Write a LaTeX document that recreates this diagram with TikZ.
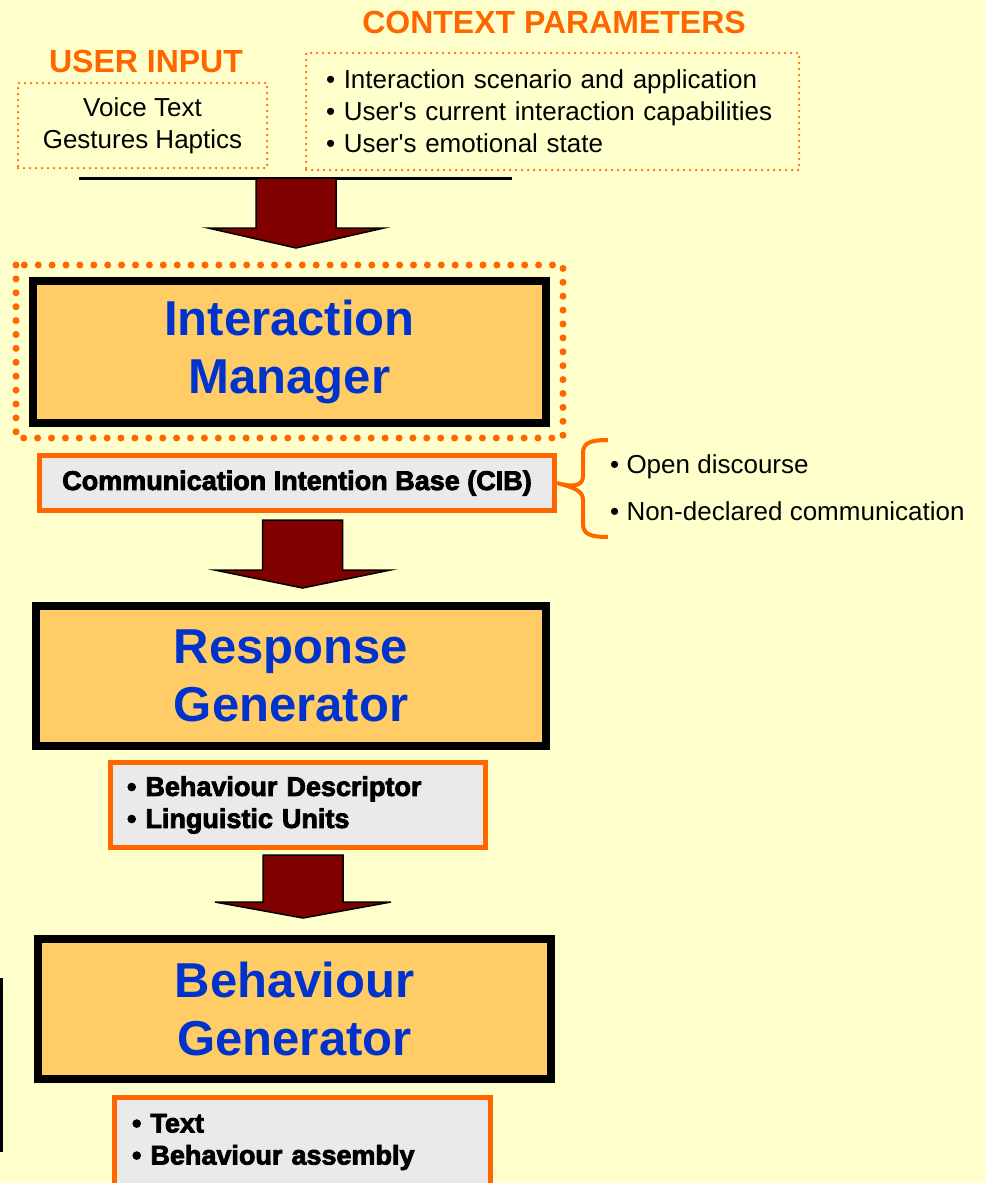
\documentclass[tikz,border=0pt]{standalone}
\usepackage{fontspec}
\setmainfont{Liberation Sans}
\newfontfamily\heavyfont{Liberation Sans}[BoldFeatures={FakeBold=3}]
\usepackage{tikz}
\usetikzlibrary{positioning}
\definecolor{paper}{HTML}{FFFFCC}
\definecolor{tangerine}{HTML}{FF6600}
\definecolor{apricot}{HTML}{FFCC66}
\definecolor{royal}{HTML}{0033CC}
\definecolor{oxblood}{HTML}{800000}
\definecolor{silver}{HTML}{EAEAEA}

\begin{document}
\begin{tikzpicture}
  [x=1pt,y=-1pt,every node/.style={inner sep=0pt},
   heading/.style={text=tangerine,font=\fontsize{32}{38}\selectfont\bfseries},
   inbox/.style={draw=tangerine,line width=2.5pt,dash pattern=on 0pt off 6pt,line cap=round},
   bigdots/.style={draw=tangerine,line width=7pt,dash pattern=on 0pt off 13.9pt,line cap=round},
   module/.style={draw=black,line width=8pt,fill=apricot,text=royal,align=center,
     font=\fontsize{49}{58}\selectfont\bfseries},
   store/.style={draw=tangerine,line width=5pt,fill=silver,
     font=\heavyfont\bfseries\fontsize{27}{32}\selectfont},
   plain/.style={font=\fontsize{26}{32}\selectfont}]
  \useasboundingbox (0,0) rectangle (985,1183);
  \fill[paper] (0,0) rectangle (985,1183);

  \node[heading,anchor=base] (uhead) at (146,72) {USER INPUT};
  \node[heading,anchor=base] (chead) at (554,33) {CONTEXT PARAMETERS};
  \node[inbox,plain,align=center,minimum width=249pt,minimum height=85pt] (userin) at (142.5,125.5)
    {Voice Text\\Gestures Haptics};
  \node[inbox,plain,align=left,text width=453pt,inner xsep=20pt,minimum height=117pt] (ctx) at (552.5,111.5)
    {\textbullet{} Interaction scenario and application\\
     \textbullet{} User\textquotesingle s current interaction capabilities\\
     \textbullet{} User\textquotesingle s emotional state};
  \draw[line width=3pt] (79,178) -- (512,178);

  \draw[bigdots] (16,265) rectangle (563,438);
  \node[module,minimum width=513pt,minimum height=142pt] (im) at (289.5,352) {Interaction\\Manager};
  \node[store,minimum width=515pt,minimum height=55pt] (cib) at (297,483) {Communication Intention Base (CIB)};
  \node[module,minimum width=510pt,minimum height=140pt] (rg) at (291,676) {Response\\Generator};
  \node[store,align=left,text width=342pt,inner xsep=16.5pt,minimum height=85pt] (desc) at (298,805)
    {\textbullet{} Behaviour Descriptor\\ \textbullet{} Linguistic Units};
  \node[module,minimum width=513pt,minimum height=140pt] (bg) at (294.5,1009) {Behaviour\\Generator};
  \node[store,align=left,text width=341pt,inner xsep=17.5pt,minimum height=89pt] (assem) at (302.5,1142)
    {\textbullet{} Text\\ \textbullet{} Behaviour assembly};

  \draw[tangerine,line width=4pt] (cib.east) .. controls (575,488) and (583,485) .. (583,476)
    -- (583,453) .. controls (583,443) and (590,440) .. (608,440)
    (cib.east) .. controls (575,488) and (583,491) .. (583,500)
    -- (583,524) .. controls (583,534) and (590,537) .. (608,537);
  \node[plain,align=left,anchor=west,font=\fontsize{26}{47}\selectfont] (kinds) at (610,488)
    {\textbullet{} Open discourse\\ \textbullet{} Non-declared communication};

  \foreach \cx/\ya/\yb/\yc in {296/178/228/248,302.5/520/570/588,303/855/902/918}
    \draw[fill=oxblood,line width=1.5pt] (\cx-40,\ya) -- (\cx-40,\yb) -- (\cx-88,\yb) -- (\cx,\yc)
      -- (\cx+88,\yb) -- (\cx+40,\yb) -- (\cx+40,\ya) -- cycle;

  \draw[line width=3pt] (1.5,978) -- (1.5,1152);
\end{tikzpicture}
\end{document}
